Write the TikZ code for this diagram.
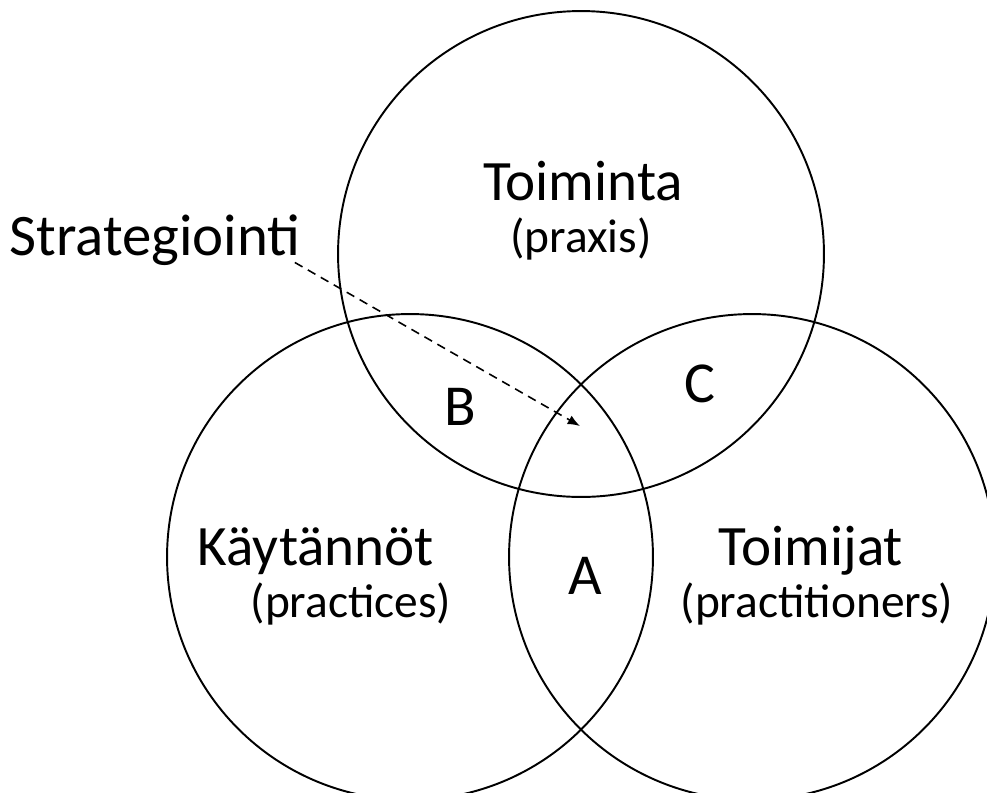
\documentclass[tikz,border=0pt]{standalone}
\usepackage{fontspec}
\setmainfont{Carlito}
\usetikzlibrary{arrows.meta,positioning}

\begin{document}
\begin{tikzpicture}[
x=0.02cm, y=-0.02cm,
venn/.style={circle, draw, line width=1.1pt, minimum size=9.72cm, inner sep=0pt},
title/.style={inner sep=0pt, anchor=base, font=\fontsize{32.5}{38}\selectfont},
note/.style={inner sep=0pt, anchor=base, font=\fontsize{27}{31}\selectfont},
region/.style={inner sep=0pt, anchor=base, font=\fontsize{33}{38}\selectfont},
pointer/.style={-{Latex[length=7pt,width=5.5pt]}, line width=0.9pt, dash pattern=on 5pt off 3.5pt}
]
\useasboundingbox (0,0) rectangle (987,792);
\clip (0,0) rectangle (987,792);

\node[venn] (praxiscircle) at (581,254) {};
\node[venn] (practicescircle) at (410,557) {};
\node[venn] (practitionerscircle) at (752,557) {};

\node[title] (toiminta) at (583,200) {Toiminta};
\node[note] (praxis) at (581,252) {(praxis)};

\node[title] (kaytannot) at (316,565) {Käytännöt};
\node[note] (practices) at (351,617) {(practices)};

\node[title] (toimijat) at (811,565) {Toimijat};
\node[note] (practitioners) at (817,617) {(practitioners)};

\node[region] (a) at (585,594) {A};
\node[region] (b) at (460,425) {B};
\node[region] (c) at (700,402) {C};

\node[title, font=\fontsize{33.5}{39}\selectfont] (strat) at (155,255) {Strategiointi};
\coordinate (core) at (580,426);

\draw[pointer] ([shift={(-6,-3)}]strat.south east) -- (core);

\end{tikzpicture}
\end{document}
